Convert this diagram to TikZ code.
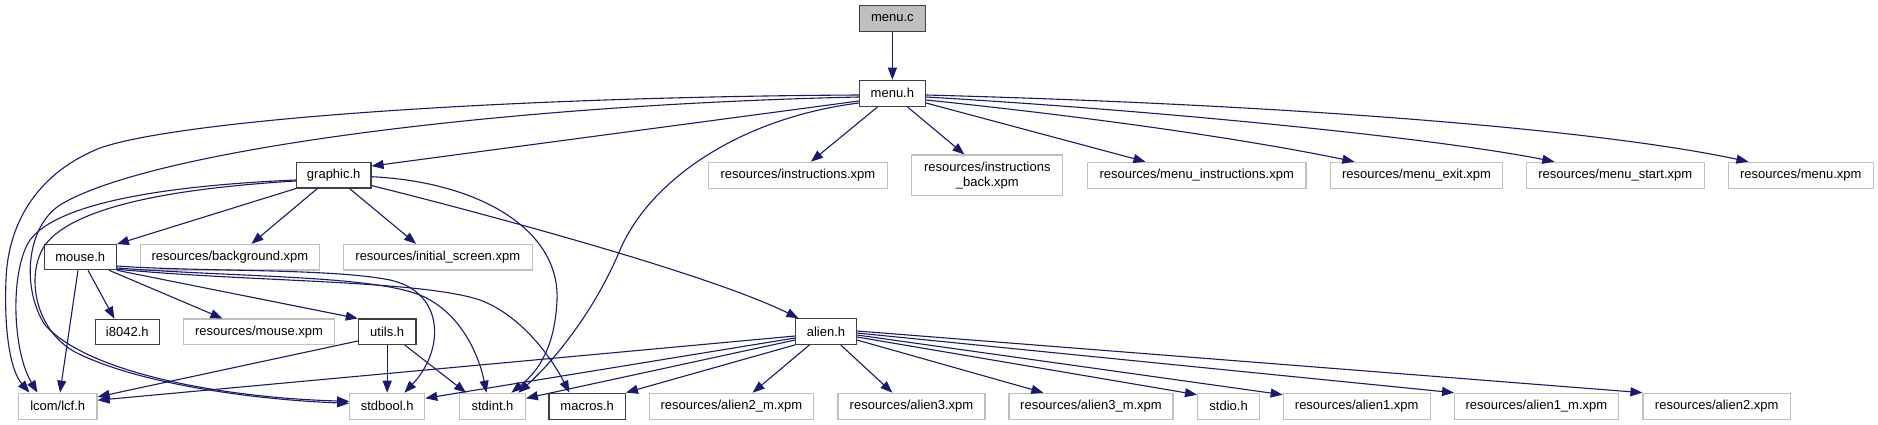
\documentclass[tikz,border=0pt]{standalone}
\usepackage{fontspec}
\setmainfont{Liberation Sans}
\usetikzlibrary{arrows.meta,calc}
\definecolor{edgeblue}{HTML}{191970}
\definecolor{extgray}{HTML}{BFBFBF}
\definecolor{boxblack}{HTML}{404040}
\definecolor{rootfill}{HTML}{BFBFBF}
\begin{document}
\begin{tikzpicture}[x=1pt,y=-1pt,
  every node/.style={font=\fontsize{13}{15}\selectfont, inner sep=0pt, align=center},
  inc/.style={draw=boxblack, line width=1.2pt, fill=white, minimum height=26pt},
  ext/.style={draw=extgray, line width=1.2pt, fill=white, minimum height=26pt},
  dep/.style={draw=edgeblue, line width=1.1pt, -{Triangle[length=12pt,width=9pt]}},
]
\useasboundingbox[fill=white] (0,0) rectangle (1878,425);

% row 1-2
\node[inc, fill=rootfill, minimum width=66pt] (menuc) at (892.4,18.3) {menu.c};
\node[inc, minimum width=66pt] (menuh) at (892.4,93.3) {menu.h};

% row 3
\node[inc, minimum width=74.5pt, minimum height=25.3pt] (graphic) at (333.7,175.3) {graphic.h};
\node[ext, minimum width=178.8pt] (instr) at (797.9,175.3) {resources/instructions.xpm};
\node[ext, minimum width=151pt, minimum height=40.3pt] (instrback) at (987.3,175.2) {resources/instructions\\\_back.xpm};
\node[ext, minimum width=218.7pt] (menuinstr) at (1196.7,175.3) {resources/menu\_instructions.xpm};
\node[ext, minimum width=172pt] (menuexit) at (1416.5,175.3) {resources/menu\_exit.xpm};
\node[ext, minimum width=178pt] (menustart) at (1615.3,175.3) {resources/menu\_start.xpm};
\node[ext, minimum width=145pt] (menuxpm) at (1800.8,175.3) {resources/menu.xpm};

% row 4
\node[inc, minimum width=72pt, minimum height=25pt] (mouse) at (80.3,257.2) {mouse.h};
\node[ext, minimum width=178.8pt, minimum height=25.5pt] (background) at (229.9,257.2) {resources/background.xpm};
\node[ext, minimum width=189pt, minimum height=25.5pt] (initscreen) at (437.8,257.2) {resources/initial\_screen.xpm};

% row 5
\node[inc, minimum width=64pt, minimum height=25pt] (i8042) at (127.3,331.8) {i8042.h};
\node[ext, minimum width=151.4pt, minimum height=25.5pt] (mousexpm) at (259,331.8) {resources/mouse.xpm};
\node[inc, minimum width=57.7pt, minimum height=25.3pt] (utils) at (387.2,331.7) {utils.h};
\node[inc, minimum width=60.7pt, minimum height=25.6pt] (alien) at (826,331.5) {alien.h};

% row 6
\node[ext, minimum width=78.7pt] (lcf) at (57.7,406.2) {lcom/lcf.h};
\node[ext, minimum width=75pt] (stdbool) at (387.2,406.3) {stdbool.h};
\node[ext, minimum width=65.6pt] (stdint) at (492.5,406.3) {stdint.h};
\node[inc, minimum width=76.3pt] (macros) at (587.2,406.2) {macros.h};
\node[ext, minimum width=164.2pt] (alien2m) at (731.3,406.3) {resources/alien2\_m.xpm};
\node[ext, minimum width=147pt] (alien3) at (911.5,406.3) {resources/alien3.xpm};
\node[ext, minimum width=164pt] (alien3m) at (1091,406.3) {resources/alien3\_m.xpm};
\node[ext, minimum width=62pt] (stdio) at (1228.6,406.3) {stdio.h};
\node[ext, minimum width=146.9pt] (alien1) at (1356.7,406.3) {resources/alien1.xpm};
\node[ext, minimum width=163.6pt] (alien1m) at (1536.4,406.3) {resources/alien1\_m.xpm};
\node[ext, minimum width=147.4pt] (alien2) at (1716.7,406.3) {resources/alien2.xpm};

% menu.c / menu.h
\draw[dep] (menuc.south) -- (menuh.north);
\draw[dep] ([yshift=-7.7pt]menuh.west) -- ([yshift=-4pt]graphic.north east);
\draw[dep] ([xshift=18.8pt]menuh.south west) -- ([xshift=103pt]instr.north west);
\draw[dep] ([xshift=-18.6pt]menuh.south east) -- ([xshift=53.2pt]instrback.north west);
\draw[dep] ([yshift=-9.7pt]menuh.east) -- ([xshift=58.7pt]menuinstr.north west);
\draw[dep] ([yshift=-6.7pt]menuh.east) .. controls (1100,118) and (1250,140) .. ([xshift=24.5pt]menuexit.north west);
\draw[dep] ([yshift=-3.7pt]menuh.east) .. controls (1150,110) and (1430,137) .. ([xshift=28.7pt]menustart.north west);
\draw[dep] ([yshift=-1.7pt]menuh.east) .. controls (1300,105) and (1600,130) .. ([xshift=20.7pt]menuxpm.north west);
\draw[dep] ([yshift=-1.7pt]menuh.west) .. controls (500,97) and (180,120) .. (100,148)
   .. controls (40,172) and (8,220) .. (6,280) .. controls (4,330) and (10,370) .. ([xshift=11.7pt]lcf.north west);
\draw[dep] ([yshift=-3.7pt]menuh.west) .. controls (500,105) and (150,150) .. (60,205)
   .. controls (25,228) and (22,290) .. (45,325) .. controls (90,375) and (230,398) .. ([yshift=5pt]stdbool.west);
\draw[dep] ([yshift=-9.7pt]menuh.west) .. controls (740,118) and (650,180) .. (620,250)
   .. controls (595,310) and (555,360) .. ([xshift=59.3pt]stdint.north west);

% graphic.h
\draw[dep] ([yshift=-4.7pt]graphic.west) .. controls (180,185) and (60,200) .. (30,240)
   .. controls (10,270) and (12,350) .. ([xshift=19.7pt]lcf.north west);
\draw[dep] ([yshift=-5.7pt]graphic.west) .. controls (180,188) and (75,205) .. (45,245)
   .. controls (25,275) and (35,330) .. (75,352) .. controls (140,385) and (260,400) .. ([yshift=3pt]stdbool.west);
\draw[dep] ([yshift=-1.4pt]graphic.east) .. controls (480,182) and (560,230) .. (557,300)
   .. controls (555,345) and (540,370) .. ([xshift=52.3pt]stdint.north west);
\draw[dep] ([yshift=3pt]graphic.south east) .. controls (450,205) and (700,270) .. ([xshift=3.4pt]alien.north west);
\draw[dep] (graphic.south west) -- (mouse.north east);
\draw[dep] ([xshift=21.5pt]graphic.south west) -- ([xshift=111.5pt]background.north west);
\draw[dep] ([xshift=-22pt]graphic.south east) -- ([xshift=73.4pt]initscreen.north west);

% mouse.h
\draw[dep] ([xshift=-2.3pt]mouse.south) -- ([xshift=2.3pt]lcf.north);
\draw[dep] ([xshift=7.7pt]mouse.south) -- ([xshift=19.7pt]i8042.north west);
\draw[dep] ([xshift=-7.8pt]mouse.south east) -- ([xshift=39.7pt]mousexpm.north west);
\draw[dep] (mouse.south east) -- (utils.north west);
\draw[dep] ([yshift=-8.8pt]mouse.east) .. controls (200,272) and (330,268) .. (390,280)
   .. controls (445,292) and (445,350) .. ([xshift=55.3pt]stdbool.north west);
\draw[dep] ([yshift=-10.8pt]mouse.east) .. controls (250,278) and (390,275) .. (430,300)
   .. controls (465,320) and (480,360) .. ([xshift=27.3pt]stdint.north west);
\draw[dep] ([yshift=-12pt]mouse.east) .. controls (250,282) and (420,280) .. (480,300)
   .. controls (520,315) and (550,355) .. ([xshift=21pt]macros.north west);

% utils.h
\draw[dep] ([yshift=-9.3pt]utils.west) -- ([yshift=9.3pt]lcf.east);
\draw[dep] (utils.south) -- (stdbool.north);
\draw[dep] ([xshift=-12pt]utils.south east) -- ([xshift=7pt]stdint.north west);

% alien.h
\draw[dep] ([yshift=-4.5pt]alien.west) -- ([yshift=6pt]lcf.east);
\draw[dep] ([yshift=-6.5pt]alien.west) -- ([yshift=8pt]stdbool.east);
\draw[dep] ([yshift=-8.5pt]alien.west) -- ([yshift=8pt]stdint.east);
\draw[dep] (alien.south west) -- (macros.north east);
\draw[dep] ([xshift=14.4pt]alien.south west) -- ([xshift=104pt]alien2m.north west);
\draw[dep] ([xshift=-16.3pt]alien.south east) -- ([xshift=55pt]alien3.north west);
\draw[dep] ([yshift=-8.5pt]alien.east) -- ([xshift=35pt]alien3m.north west);
\draw[dep] ([yshift=-5.5pt]alien.east) -- ([yshift=-2pt]stdio.north west);
\draw[dep] ([yshift=-3.5pt]alien.east) -- ([yshift=-2pt]alien1.north west);
\draw[dep] ([yshift=-1.5pt]alien.east) -- (alien1m.north west);
\draw[dep] ([yshift=0.5pt]alien.east) -- (alien2.north west);
\end{tikzpicture}
\end{document}
